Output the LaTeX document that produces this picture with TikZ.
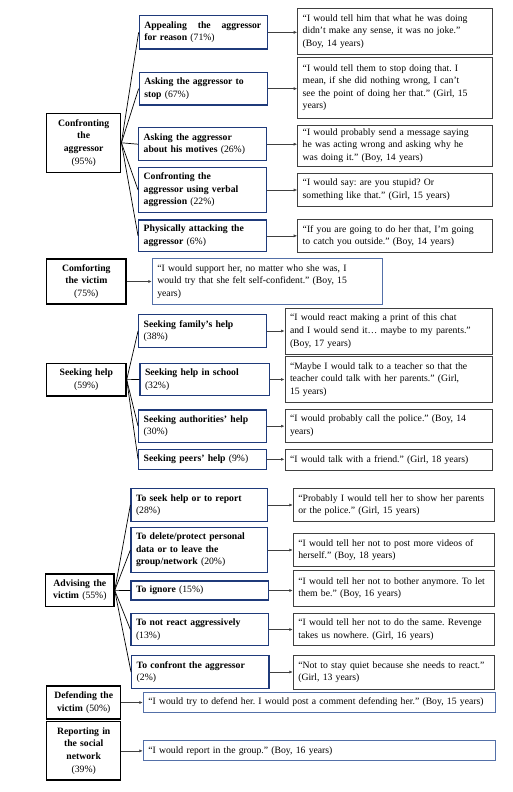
\documentclass[tikz,border=0pt]{standalone}
\usepackage{fontspec}
\setmainfont{Liberation Serif}
\usetikzlibrary{arrows.meta}
\definecolor{navy}{HTML}{1F3A7A}
\definecolor{lblue}{HTML}{5470A8}
\definecolor{qgray}{HTML}{404040}
\newcommand\boxfont{\fontsize{9.7}{12.6}\selectfont\frenchspacing\hyphenpenalty=10000\relax\exhyphenpenalty=10000\relax}
\tikzset{
  bb/.code n args={4}{%
    \pgfmathsetmacro\bw{#3-#1}\pgfmathsetmacro\bh{#4-#2}%
    \pgfmathsetmacro\btw{#3-#1-10}%
    \pgfmathsetmacro\bcx{(#1+#3)/2}\pgfmathsetmacro\bcy{(#2+#4)/2}%
    \edef\bbtmp{\noexpand\tikzset{minimum width=\bw pt,minimum height=\bh pt,text width=\btw pt,at={(\bcx,\bcy)}}}\bbtmp},
  base/.style={rectangle, inner xsep=5pt, inner ysep=2pt, font=\boxfont},
  root/.style={base, draw=black, line width=1.4pt, align=center},
  choice/.style={base, draw=navy, line width=1.3pt, align=left},
  quote/.style={base, draw=qgray, line width=1pt, align=left},
  bquote/.style={base, draw=lblue, line width=1pt, align=left},
  fan/.style={draw=black, line width=0.7pt},
  arr/.style={draw=qgray, line width=0.6pt, -{Latex[length=3.5pt,width=3pt]}},
}
\begin{document}
\begin{tikzpicture}[x=1pt,y=-1pt]
\useasboundingbox (0,0) rectangle (513,792);
% ---- Confronting the aggressor
\node[root, bb={46.7}{113.3}{120.7}{172.3}] (r1) {\textbf{Confronting}\\\textbf{the}\\\textbf{aggressor}\\(95\%)};
\node[choice, bb={139.3}{15.7}{267.7}{49}] (c1) {\makebox[117pt][s]{\bfseries Appealing\hfill the\hfill aggressor}\\\textbf{for reason} (71\%)};
\node[choice, bb={139.3}{72.3}{267.7}{105}] (c2) {\textbf{Asking the aggressor to}\\\textbf{stop} (67\%)};
\node[choice, bb={138.7}{127.7}{266.7}{160.7}] (c3) {\textbf{Asking the aggressor}\\\textbf{about his motives} (26\%)};
\node[choice, bb={138.7}{167.3}{266.7}{212.7}] (c4) {\textbf{Confronting the}\\\textbf{aggressor using verbal}\\\textbf{aggression} (22\%)};
\node[choice, bb={138.7}{220}{266.7}{251.7}] (c5) {\textbf{Physically attacking the}\\\textbf{aggressor} (6\%)};
\node[quote, bb={297.7}{8.7}{492.3}{54.3}] (q1) {“I would tell him that what he was doing\\didn’t make any sense, it was no joke.”\\(Boy, 14 years)};
\node[quote, bb={297.7}{57.3}{492.3}{118}] (q2) {“I would tell them to stop doing that. I\\mean, if she did nothing wrong, I can’t\\see the point of doing her that.” (Girl, 15\\years)};
\node[quote, bb={297.7}{125}{492.3}{166}] (q3) {“I would probably send a message saying\\he was acting wrong and asking why he\\was doing it.” (Boy, 14 years)};
\node[quote, bb={297.7}{173.3}{492.3}{206}] (q4) {“I would say: are you stupid? Or\\something like that.” (Girl, 15 years)};
\node[quote, bb={297.7}{219.3}{492.3}{252.7}] (q5) {“If you are going to do her that, I’m going\\to catch you outside.” (Boy, 14 years)};
\foreach \i in {1,...,5} {
  \draw[fan] (r1.east) -- (c\i.west);
  \draw[arr] (c\i.east) -- (c\i.east -| q\i.west);
}
% ---- Comforting the victim
\node[root, bb={46.7}{259}{126}{304}] (r2) {\textbf{Comforting}\\\textbf{the victim}\\(75\%)};
\node[bquote, bb={152.3}{258.3}{382.3}{304.3}] (qc) {“I would support her, no matter who she was, I\\would try that she felt self-confident.” (Boy, 15\\years)};
\draw[arr] (r2.east) -- (r2.east -| qc.west);
% ---- Seeking help
\node[root, bb={46.7}{363.3}{126}{396}] (r3) {\textbf{Seeking help}\\(59\%)};
\node[choice, bb={138.7}{314.3}{266.7}{347.7}] (s1) {\textbf{Seeking family’s help}\\(38\%)};
\node[choice, bb={140}{363.3}{269.3}{395.7}] (s2) {\textbf{Seeking help in school}\\(32\%)};
\node[choice, bb={138.7}{410}{266.7}{442.3}] (s3) {\textbf{Seeking authorities’ help}\\(30\%)};
\node[choice, bb={138.7}{449.3}{266.7}{469.3}] (s4) {\textbf{Seeking peers’ help} (9\%)};
\node[quote, bb={285}{308.3}{492.3}{354}] (p1) {“I would react making a print of this chat\\and I would send it… maybe to my parents.”\\(Boy, 17 years)};
\node[quote, bb={285}{356.7}{492.3}{402.3}] (p2) {“Maybe I would talk to a teacher so that the\\teacher could talk with her parents.” (Girl,\\15 years)};
\node[quote, bb={285}{409}{492.3}{442.7}] (p3) {“I would probably call the police.” (Boy, 14\\years)};
\node[quote, bb={285}{449.3}{492.3}{470}] (p4) {“I would talk with a friend.” (Girl, 18 years)};
\foreach \i in {1,...,4} {
  \draw[fan] (r3.east) -- (s\i.west);
  \draw[arr] (s\i.east) -- (s\i.east -| p\i.west);
}
% ---- Advising the victim
\node[root, bb={45.7}{574}{114}{606.7}] (r4) {\textbf{Advising the}\\\textbf{victim} (55\%)};
\node[choice, bb={131}{488.3}{267.3}{521.7}] (a1) {\textbf{To seek help or to report}\\(28\%)};
\node[choice, bb={131}{527.3}{267.3}{572.7}] (a2) {\textbf{To delete/protect personal}\\\textbf{data or to leave the}\\\textbf{group/network} (20\%)};
\node[choice, bb={131}{581}{268.7}{600}] (a3) {\textbf{To ignore} (15\%)};
\node[choice, bb={131}{613.3}{268.7}{645.7}] (a4) {\textbf{To not react aggressively}\\(13\%)};
\node[choice, bb={131.7}{655.7}{269}{688.3}] (a5) {\textbf{To confront the aggressor}\\(2\%)};
\node[quote, bb={293.3}{488.3}{494.3}{521.7}] (b1) {“Probably I would tell her to show her parents\\or the police.” (Girl, 15 years)};
\node[quote, bb={293.3}{533.3}{494.3}{566.7}] (b2) {“I would tell her not to post more videos of\\herself.” (Boy, 18 years)};
\node[quote, bb={293.3}{570}{494.3}{606.7}] (b3) {“I would tell her not to bother anymore. To let\\them be.” (Boy, 16 years)};
\node[quote, bb={293.3}{613.3}{494.3}{645.7}] (b4) {“I would tell her not to do the same. Revenge\\takes us nowhere. (Girl, 16 years)};
\node[quote, bb={293.3}{655.7}{494.3}{689}] (b5) {“Not to stay quiet because she needs to react.”\\(Girl, 13 years)};
\foreach \i in {1,...,5} {
  \draw[fan] (r4.east) -- (a\i.west);
  \draw[arr] (a\i.east) -- (a\i.east -| b\i.west);
}
% ---- Defending the victim
\node[root, bb={46.7}{686}{120.7}{719}] (r5) {\textbf{Defending the}\\\textbf{victim} (50\%)};
\node[bquote, bb={143.3}{692.3}{495.7}{712.3}] (qd) {“I would try to defend her. I would post a comment defending her.” (Boy, 15 years)};
\draw[arr] (r5.east) -- (r5.east -| qd.west);
% ---- Reporting in the social network
\node[root, bb={46.7}{721.7}{120.7}{780}] (r6) {\textbf{Reporting in}\\\textbf{the social}\\\textbf{network}\\(39\%)};
\node[bquote, bb={143.3}{740.7}{495.7}{760.7}] (qr) {“I would report in the group.” (Boy, 16 years)};
\draw[arr] (r6.east) -- (r6.east -| qr.west);
\end{tikzpicture}
\end{document}
